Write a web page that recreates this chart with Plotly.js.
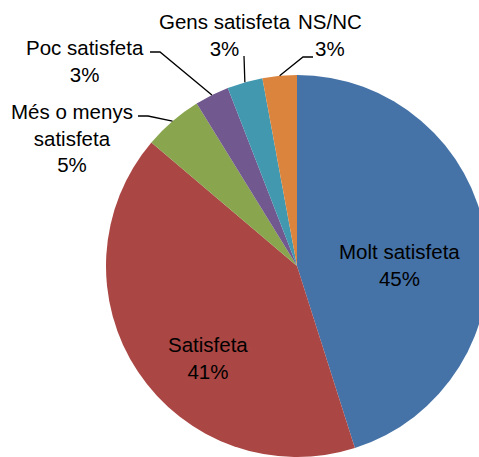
<!DOCTYPE html>
<html>
<head>
<meta charset="utf-8">
<script src="https://cdn.plot.ly/plotly-3.0.1.min.js"></script>
<style>
html,body{margin:0;padding:0;overflow:hidden;background:#fff;width:479px;height:457px;}
#chart{width:495px;height:457px;}
</style>
</head>
<body>
<div id="chart"></div>
<script>
// Data
const labels = ['Molt satisfeta', 'Satisfeta', 'Més o menys satisfeta', 'Poc satisfeta', 'Gens satisfeta', 'NS/NC'];
const values = [45.1, 41.1, 5.0, 2.9, 3.0, 2.9];
const colors = ['#4572A7', '#AA4643', '#89A54E', '#71588F', '#4198AF', '#DB843D'];
const displayLabels = ['Molt satisfeta', 'Satisfeta', 'Més o menys<br>satisfeta', 'Poc satisfeta', 'Gens satisfeta', 'NS/NC'];

// Layout geometry (pixels)
const W = 495, H = 457;
const cx = 297, cy = 266, r = 191;
// label anchor centers (pixel) and leader line start points
const labelPos = [[399, 265], [208, 358], [72, 138], [85, 61], [225, 35], [330, 35]];
const leaderStart = [null, null, [[138, 116], [148, 116]], [[150, 52], [160, 52]], [[244, 56]], [[313, 57], [303, 57]]];

const px = x => x / W;
const py = y => 1 - y / H;

const total = values.reduce((a, b) => a + b, 0);
const pct = values.map(v => Math.round(v / total * 100) + '%');

// mid angles (clockwise from 12 o'clock)
let cum = 0;
const tips = values.map(v => {
  const a = (cum + v / 2) / total * 2 * Math.PI;
  cum += v;
  return [cx + r * Math.sin(a), cy - r * Math.cos(a)];
});

const fontFam = 'Liberation Sans, Arial, sans-serif';
const annotations = labels.map((l, i) => ({
  xref: 'paper', yref: 'paper',
  x: px(labelPos[i][0]), y: py(labelPos[i][1]),
  xanchor: 'center', yanchor: 'middle',
  text: displayLabels[i] + '<br>' + pct[i],
  showarrow: false, align: 'center',
  font: {family: fontFam, size: 20.5, color: '#000'}
}));

const shapes = [];
leaderStart.forEach((pts, i) => {
  if (!pts) return;
  const all = pts.concat([tips[i]]);
  const path = all.map((p, k) => (k ? 'L' : 'M') + px(p[0]) + ',' + py(p[1])).join(' ');
  shapes.push({type: 'path', xref: 'paper', yref: 'paper', path: path,
    line: {color: '#000', width: 1.3}});
});

const trace = {
  type: 'pie',
  labels: labels,
  values: values,
  sort: false,
  direction: 'clockwise',
  rotation: 0,
  textinfo: 'none',
  hoverinfo: 'label+percent',
  marker: {colors: colors, line: {width: 0}},
  domain: {x: [(cx - r) / W, (cx + r) / W], y: [(H - cy - r) / H, (H - cy + r) / H]},
  showlegend: false
};

const layout = {
  width: W, height: H,
  margin: {l: 0, r: 0, t: 0, b: 0},
  paper_bgcolor: '#fff',
  showlegend: false,
  annotations: annotations,
  shapes: shapes
};

Plotly.newPlot('chart', [trace], layout, {displayModeBar: false, staticPlot: true});
</script>
</body>
</html>
